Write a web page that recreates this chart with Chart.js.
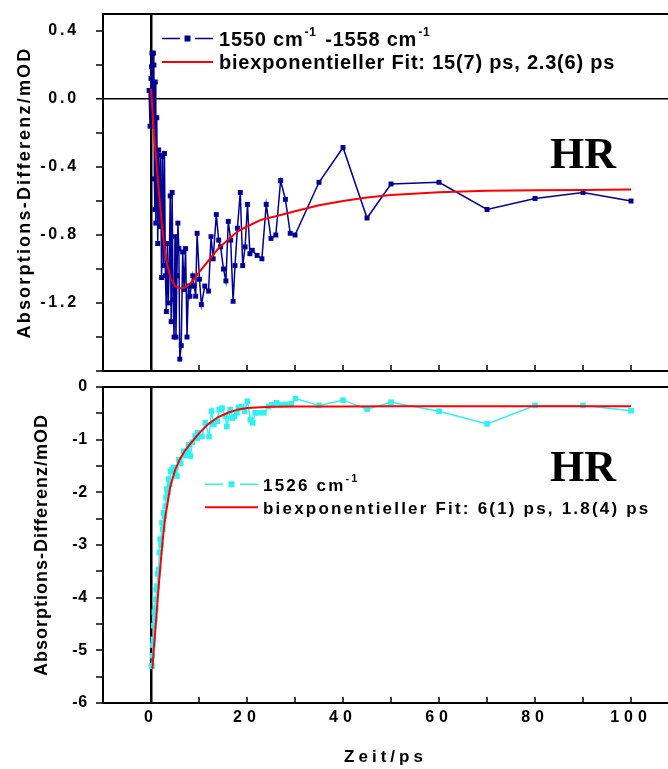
<!DOCTYPE html>
<html><head><meta charset="utf-8">
<script src="https://cdn.jsdelivr.net/npm/chart.js@4.4.1/dist/chart.umd.min.js"></script>
<style>
html,body{margin:0;padding:0;background:#fff;}
body{width:668px;height:769px;position:relative;overflow:hidden;}
#c1{position:absolute;left:0;top:0;}
#c2{position:absolute;left:0;top:375px;}
</style></head><body>
<canvas id="c1" width="668" height="375"></canvas>
<canvas id="c2" width="668" height="394"></canvas>
<script>
// ---------- data ----------
const xTicks = [-10,0,10,20,30,40,50,60,70,80,90,100];
const xLabeled = [0,20,40,60,80,100];
const xMin = -10, xMax = 107.7;

const topYTicks = [-1.6,-1.4,-1.2,-1.0,-0.8,-0.6,-0.4,-0.2,0,0.2,0.4];
const topYLabeled = [0.4,0,-0.4,-0.8,-1.2];
const topYMin = -1.6, topYMax = 0.5;

const botYTicks = [-6,-5.5,-5,-4.5,-4,-3.5,-3,-2.5,-2,-1.5,-1,-0.5,0];
const botYLabeled = [0,-1,-2,-3,-4,-5,-6];
const botYMin = -6, botYMax = 0;

const topT = [-0.4,-0.2,0,0.1,0.2,0.3,0.4,0.5,0.6,0.7,0.8,0.9,1.0,1.2,1.4,1.6,1.8,2.0,2.2,2.4,2.6,2.8,3.0,3.2,3.4,3.6,3.8,4.0,4.2,4.4,4.6,4.8,5.0,5.2,5.4,5.6,5.8,6.0,6.3,6.6,6.9,7.2,7.5,7.8,8.1,8.4,8.7,9.0,9.3,9.6,10.1,10.5,11.2,12.0,12.5,12.95,13.6,14.1,14.5,15.1,15.6,16.1,16.6,17.1,17.5,18.0,18.6,19.1,19.6,20.1,20.6,21.1,22.1,23.1,24,25,26,27,28,29,30,35,40,45,50,60,70,80,90,100];
const topV = [0.05,-0.16,0.12,0.19,0.27,0.10,-0.10,0.27,0.20,-0.47,-0.65,0.10,-0.73,-0.11,-0.85,-0.30,-0.75,-0.33,-1.05,-0.34,-0.98,-0.32,-1.04,-1.25,-0.85,-1.20,-0.98,-0.57,-1.31,-0.55,-1.18,-1.40,-0.81,-1.40,-1.04,-0.73,-0.88,-1.53,-1.45,-0.90,-1.12,-0.88,-1.40,-1.10,-1.16,-1.10,-1.04,-1.10,-1.16,-0.79,-1.06,-1.21,-1.10,-1.13,-0.81,-0.94,-0.68,-0.83,-0.87,-1.00,-1.07,-0.72,-0.83,-1.19,-0.98,-0.76,-0.55,-0.98,-0.87,-0.62,-0.91,-0.89,-0.92,-0.94,-0.62,-0.82,-0.80,-0.48,-0.59,-0.79,-0.80,-0.49,-0.285,-0.70,-0.50,-0.49,-0.65,-0.585,-0.55,-0.60];

const topFitT = [0,0.5,1,1.5,2,2.5,3,4,5,6,7,8,9,10,12,14,16,18,20,23,26,30,35,40,45,50,60,70,80,90,100];
const topFitV = [0.06,-0.15,-0.33,-0.50,-0.66,-0.80,-0.92,-1.05,-1.10,-1.115,-1.11,-1.09,-1.06,-1.02,-0.95,-0.88,-0.83,-0.78,-0.75,-0.71,-0.69,-0.66,-0.625,-0.60,-0.58,-0.565,-0.548,-0.54,-0.537,-0.535,-0.533];

const botT = [0.1,0.2,0.3,0.4,0.5,0.6,0.7,0.8,0.9,1.0,1.1,1.25,1.4,1.6,1.75,1.9,2.1,2.3,2.45,2.6,2.8,3.0,3.15,3.3,3.5,3.7,3.9,4.1,4.4,4.7,5.0,5.4,5.8,6.2,6.8,7.1,7.5,7.8,8.2,8.6,9.2,9.6,9.7,10.6,11.3,12.1,12.6,13.1,13.8,14.2,14.8,15.5,15.8,16.5,16.9,17.4,17.9,18.2,18.9,19.5,20.1,20.7,21.2,21.7,22.4,23.5,24.5,25.2,26.2,27,28,29.2,30.1,35,40,45,50,60,70,80,90,100];
const botV = [-5.30,-5.29,-5.10,-4.90,-4.79,-4.53,-4.28,-4.40,-4.03,-4.20,-3.85,-3.78,-3.55,-3.46,-3.14,-2.89,-3.00,-2.58,-2.70,-2.39,-2.45,-2.26,-2.10,-1.94,-2.00,-1.75,-1.85,-1.60,-1.57,-1.53,-1.62,-1.69,-1.38,-1.45,-1.22,-1.30,-1.22,-1.10,-1.31,-1.05,-0.93,-0.97,-0.87,-0.94,-0.68,-0.94,-0.46,-0.71,-0.65,-0.43,-0.40,-0.56,-0.75,-0.43,-0.59,-0.56,-0.49,-0.39,-0.37,-0.46,-0.27,-0.62,-0.68,-0.49,-0.49,-0.49,-0.37,-0.34,-0.30,-0.34,-0.33,-0.32,-0.22,-0.35,-0.25,-0.42,-0.29,-0.46,-0.70,-0.35,-0.35,-0.45];

const botFitT = [0.3,0.6,1,1.5,2,2.5,3,4,5,6,7,8,9,10,12,14,16,18,20,25,30,40,50,60,80,100];
const botFitV = [-5.35,-4.95,-4.5,-3.9,-3.35,-2.85,-2.45,-1.90,-1.58,-1.37,-1.22,-1.10,-0.99,-0.88,-0.70,-0.57,-0.49,-0.43,-0.40,-0.375,-0.37,-0.368,-0.367,-0.367,-0.367,-0.367];

const yTitle = 'Absorptions-Differenz/mOD';
const xTitle = 'Zeit/ps';
const topLegend1 = ['1550 cm', '-1', ' -1558 cm', '-1'];
const topLegend2 = 'biexponentieller Fit: 15(7) ps, 2.3(6) ps';
const botLegend1 = ['1526 cm', '-1'];
const botLegend2 = 'biexponentieller Fit: 6(1) ps, 1.8(4) ps';
const panelLabel = 'HR';

// ---------- styling ----------
const navy = '#000096', cyan = '#2ef2f2', red = '#ff0000';
const SANS = '"Liberation Sans", Arial, sans-serif';
const SERIF = '"Liberation Serif", "Times New Roman", serif';
Chart.defaults.font.family = SANS;
Chart.defaults.color = '#000';

function pts(xs, ys){ return xs.map((x,i)=>({x:x, y:ys[i]})); }
function has(list, v){ return list.some(a => Math.abs(a - v) < 1e-9); }
function zeroCol(c){ return c.tick && Math.abs(c.tick.value) < 1e-9 ? '#000' : 'rgba(0,0,0,0)'; }

const spacingPlugin = {
  id: 'spacing',
  afterLayout(chart, args, opts){
    Object.values(chart.scales).forEach(s => {
      const cfg = opts[s.id];
      if (!cfg || s.__sp) return;
      s.__sp = true;
      const dl = s.drawLabels, dt = s.drawTitle;
      s.drawLabels = function(a){ const c = this.ctx; c.save(); c.letterSpacing = cfg.labels; dl.call(this, a); c.restore(); };
      s.drawTitle = function(a){ const c = this.ctx; c.save(); c.letterSpacing = cfg.title; dt.call(this, a); c.restore(); };
    });
  }
};

function runs(ctx, x, y, parts){
  parts.forEach(p => { ctx.font = p[1]; ctx.fillText(p[0], x + (p[3]||0), y + p[2]); x += ctx.measureText(p[0]).width + (p[3]||0); });
}
function topFrame(ctx, a){
  ctx.strokeStyle = '#000'; ctx.lineWidth = 2;
  ctx.beginPath(); ctx.moveTo(a.left, a.top); ctx.lineTo(a.right, a.top); ctx.stroke();
}
function sample(ctx, color, y, x0, x1, marker){
  ctx.strokeStyle = color; ctx.fillStyle = color;
  if (marker){
    ctx.lineWidth = 1.5;
    ctx.beginPath(); ctx.moveTo(x0, y); ctx.lineTo(x0 + 18, y); ctx.moveTo(x1 - 18, y); ctx.lineTo(x1, y); ctx.stroke();
    const m = (x0 + x1) / 2; ctx.fillRect(m - 3, y - 3, 6, 6);
  } else {
    ctx.lineWidth = 2;
    ctx.beginPath(); ctx.moveTo(x0, y); ctx.lineTo(x1, y); ctx.stroke();
  }
}

const topDecor = {
  id: 'topDecor',
  afterDraw(chart){
    const ctx = chart.ctx, a = chart.chartArea;
    ctx.save();
    topFrame(ctx, a);
    sample(ctx, navy, 38.5, 162, 213, true);
    sample(ctx, red, 62, 162, 213, false);
    ctx.fillStyle = '#000'; ctx.textBaseline = 'alphabetic'; ctx.textAlign = 'left';
    ctx.letterSpacing = '0.8px';
    const big = 'bold 20px ' + SANS, sup = 'bold 12px ' + SANS;
    runs(ctx, 219, 46, [[topLegend1[0], big, 0], [topLegend1[1], sup, -10, 1], [topLegend1[2], big, 0, 2], [topLegend1[3], sup, -10, 1]]);
    runs(ctx, 219, 68.5, [[topLegend2, big, 0]]);
    ctx.letterSpacing = '0px';
    ctx.font = 'bold 44px ' + SERIF;
    ctx.fillText(panelLabel, 550, 168);
    ctx.restore();
  }
};

const botDecor = {
  id: 'botDecor',
  afterDraw(chart){
    const ctx = chart.ctx, a = chart.chartArea;
    ctx.save();
    topFrame(ctx, a);
    sample(ctx, cyan, 109.3, 205, 258, true);
    sample(ctx, red, 132.3, 205, 258, false);
    ctx.fillStyle = '#000'; ctx.textBaseline = 'alphabetic'; ctx.textAlign = 'left';
    ctx.letterSpacing = '2.2px';
    const big = 'bold 17px ' + SANS, sup = 'bold 11px ' + SANS;
    runs(ctx, 263, 116, [[botLegend1[0], big, 0], [botLegend1[1], sup, -9, 0]]);
    runs(ctx, 263, 139, [[botLegend2, big, 0]]);
    ctx.letterSpacing = '0px';
    ctx.font = 'bold 44px ' + SERIF;
    ctx.fillText(panelLabel, 550, 106);
    ctx.restore();
  }
};

function xScale(showLabels, h){
  return {
    type: 'linear', min: xMin, max: xMax,
    afterBuildTicks: s => { s.ticks = xTicks.map(v => ({value: v})); },
    afterFit: s => { s.height = h; s.paddingLeft = 0; s.paddingRight = 0; s.paddingTop = 0; s.paddingBottom = 0; },
    ticks: { display: showLabels, font: {size: 16, weight: 'bold'}, color: '#000', padding: 11, maxRotation: 0,
      callback: v => has(xLabeled, v) ? String(v) : '' },
    grid: { color: zeroCol, lineWidth: c => (c.tick && Math.abs(c.tick.value) < 1e-9) ? 2.5 : 0,
      drawTicks: true, tickLength: -6, tickColor: '#000', tickWidth: 1.5 },
    border: { display: true, color: '#000', width: 2 },
    title: { display: showLabels, text: xTitle, font: {size: 17, weight: 'bold'}, color: '#000', padding: {top: 0, bottom: 1} }
  };
}
function yFit(s){ s.width = 103; s.paddingTop = 0; s.paddingBottom = 0; s.paddingLeft = 0; s.paddingRight = 0; }

new Chart(document.getElementById('c1'), {
  type: 'line',
  data: { datasets: [
    { label: topLegend2, data: pts(topFitT, topFitV), borderColor: red, borderWidth: 2, pointRadius: 0, tension: 0, order: 1 },
    { label: topLegend1.join(''), data: pts(topT, topV), borderColor: navy, backgroundColor: navy, borderWidth: 1.5,
      pointStyle: 'rect', pointRadius: 3.5, pointBorderWidth: 0, pointBackgroundColor: navy, tension: 0, order: 2 }
  ]},
  options: {
    responsive: false, animation: false, events: [],
    layout: { padding: {top: 14, left: 0, right: 0, bottom: 0}, autoPadding: false },
    plugins: { legend: {display: false}, tooltip: {enabled: false},
      spacing: { y: {labels: '2.8px', title: '2.2px'} } },
    scales: {
      x: xScale(false, 4),
      y: {
        type: 'linear', min: topYMin, max: topYMax,
        afterBuildTicks: s => { s.ticks = topYTicks.map(v => ({value: v})); },
        afterFit: yFit,
        ticks: { font: {size: 16, weight: 'bold'}, color: '#000', padding: 17,
          callback: v => has(topYLabeled, v) ? v.toFixed(1) : '' },
        grid: { color: zeroCol, lineWidth: c => (c.tick && Math.abs(c.tick.value) < 1e-9) ? 1.5 : 0,
          drawTicks: true, tickLength: 7, tickColor: '#000', tickWidth: 1.5 },
        border: { display: true, color: '#000', width: 2 },
        title: { display: true, text: yTitle, font: {size: 18, weight: 'bold'}, color: '#000', padding: {top: 14, bottom: 0} }
      }
    }
  },
  plugins: [spacingPlugin, topDecor]
});

new Chart(document.getElementById('c2'), {
  type: 'line',
  data: { datasets: [
    { label: botLegend2, data: pts(botFitT, botFitV), borderColor: red, borderWidth: 2, pointRadius: 0, tension: 0, order: 1 },
    { label: botLegend1.join(''), data: pts(botT, botV), borderColor: cyan, backgroundColor: cyan, borderWidth: 1.5,
      pointStyle: 'rect', pointRadius: 4, pointBorderWidth: 0, pointBackgroundColor: cyan, tension: 0, order: 2 }
  ]},
  options: {
    responsive: false, animation: false, events: [],
    layout: { padding: {top: 12, left: 0, right: 0, bottom: 0}, autoPadding: false },
    plugins: { legend: {display: false}, tooltip: {enabled: false},
      spacing: { x: {labels: '5px', title: '4px'}, y: {labels: '0.8px', title: '1px'} } },
    scales: {
      x: xScale(true, 66),
      y: {
        type: 'linear', min: botYMin, max: botYMax,
        afterBuildTicks: s => { s.ticks = botYTicks.map(v => ({value: v})); },
        afterFit: yFit,
        ticks: { font: {size: 16, weight: 'bold'}, color: '#000', padding: 8,
          callback: v => has(botYLabeled, v) ? String(v) : '' },
        grid: { color: 'rgba(0,0,0,0)', lineWidth: 0, drawTicks: true, tickLength: 7, tickColor: '#000', tickWidth: 1.5 },
        border: { display: true, color: '#000', width: 2 },
        title: { display: true, text: yTitle, font: {size: 18, weight: 'bold'}, color: '#000', padding: {top: 31, bottom: 0} }
      }
    }
  },
  plugins: [spacingPlugin, botDecor]
});
</script>
</body></html>
